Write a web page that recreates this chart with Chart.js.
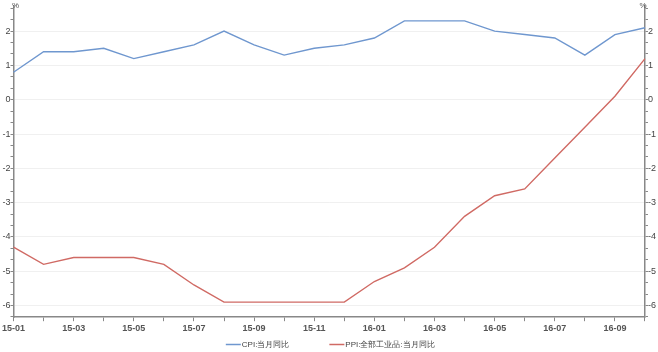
<!DOCTYPE html>
<html><head><meta charset="utf-8">
<script src="https://cdn.jsdelivr.net/npm/chart.js@4/dist/chart.umd.min.js"></script>
<style>html,body{margin:0;padding:0;background:#fff}#wrap{width:658px;height:352px}</style>
</head><body><div id="wrap"><canvas id="c"></canvas></div>
<script>
const categories = ["15-01","15-02","15-03","15-04","15-05","15-06","15-07","15-08","15-09","15-10","15-11","15-12","16-01","16-02","16-03","16-04","16-05","16-06","16-07","16-08","16-09","16-10"];
const cpi = [0.8,1.4,1.4,1.5,1.2,1.4,1.6,2.0,1.6,1.3,1.5,1.6,1.8,2.3,2.3,2.3,2.0,1.9,1.8,1.3,1.9,2.1];
const ppi = [-4.3,-4.8,-4.6,-4.6,-4.6,-4.8,-5.4,-5.9,-5.9,-5.9,-5.9,-5.9,-5.3,-4.9,-4.3,-3.4,-2.8,-2.6,-1.7,-0.8,0.1,1.2];
const seriesNames = ["CPI:当月同比","PPI:全部工业品:当月同比"];
const unitLabel = "%";
const yTicks = [-6,-5,-4,-3,-2,-1,0,1,2];

const Y_MIN = -6.34, Y_MAX = 2.75;
function buildYTicks(scale){
  const t = [];
  for (let i = -19; i <= 8; i++) { const v = i/3; if (v >= Y_MIN && v <= Y_MAX) t.push({value: v}); }
  scale.ticks = t;
}
const isMajor = v => yTicks.some(m => Math.abs(m - v) < 1e-6);
const FAMILY = "'Liberation Sans', Arial, sans-serif";
const font = {family: FAMILY, size: 9};

const extrasPlugin = {
  id: 'extras',
  afterDraw(chart){
    const {ctx, chartArea} = chart;
    ctx.save();
    ctx.fillStyle = '#555';
    ctx.font = "8px " + FAMILY;
    ctx.textBaseline = 'bottom';
    ctx.textAlign = 'center';
    ctx.fillText(unitLabel, chartArea.left + 2, chartArea.top + 4);
    ctx.fillText(unitLabel, chartArea.right - 2, chartArea.top + 4);
    // legend
    ctx.font = "8px " + FAMILY;
    ctx.textAlign = 'left';
    ctx.textBaseline = 'middle';
    const ds = chart.data.datasets;
    const lineW = 15, gapT = 1, gapItems = 40;
    const widths = ds.map(d => lineW + gapT + ctx.measureText(d.label).width);
    const total = widths.reduce((a,b)=>a+b,0) + gapItems*(ds.length-1);
    let x = (chartArea.left + chartArea.right)/2 + 1 - total/2;
    const y = 344.5;
    ds.forEach((d,i) => {
      ctx.strokeStyle = d.borderColor; ctx.lineWidth = 1.5;
      ctx.beginPath(); ctx.moveTo(x, y); ctx.lineTo(x + lineW, y); ctx.stroke();
      ctx.fillStyle = '#444';
      ctx.fillText(d.label, x + lineW + gapT, y);
      x += widths[i] + gapItems;
    });
    ctx.restore();
  }
};

const yCommon = {
  min: Y_MIN, max: Y_MAX,
  afterBuildTicks: buildYTicks,
  border: {color: '#888', width: 1.5},
  grid: {
    color: c => (c.tick && isMajor(c.tick.value)) ? '#f0f0f0' : 'rgba(0,0,0,0)',
    tickColor: '#888', tickLength: 3, lineWidth: 1
  },
  ticks: {
    font, color: '#444', padding: 0, autoSkip: false,
    callback: v => isMajor(v) ? String(Math.round(v)) : ''
  }
};

new Chart(document.getElementById('c'), {
  type: 'line',
  data: {
    labels: categories,
    datasets: [
      {label: seriesNames[0], data: cpi, borderColor: '#6f97cf', backgroundColor: '#6f97cf', borderWidth: 1.4, pointRadius: 0, tension: 0, yAxisID: 'y'},
      {label: seriesNames[1], data: ppi, borderColor: '#d06a64', backgroundColor: '#d06a64', borderWidth: 1.4, pointRadius: 0, tension: 0, yAxisID: 'y'}
    ]
  },
  options: {
    responsive: true, maintainAspectRatio: false, animation: false,
    layout: {padding: {top: 4, left: 0, right: 2, bottom: 16}},
    plugins: {
      legend: {display: false},
      tooltip: {enabled: false}
    },
    scales: {
      x: {
        type: 'category', offset: false,
        border: {color: '#888', width: 1.5},
        grid: {drawOnChartArea: false, tickColor: '#888', tickLength: 4},
        ticks: {font: {...font, weight: 'bold'}, color: '#555', autoSkip: false, maxRotation: 0, padding: 2,
          callback: function(v, i){ return i % 2 === 0 ? this.getLabelForValue(v) : ''; }}
      },
      y: Object.assign({position: 'left'}, yCommon),
      y1: Object.assign({position: 'right'}, yCommon, {grid: Object.assign({}, yCommon.grid, {drawOnChartArea: false})})
    }
  },
  plugins: [extrasPlugin]
});
</script></body></html>
